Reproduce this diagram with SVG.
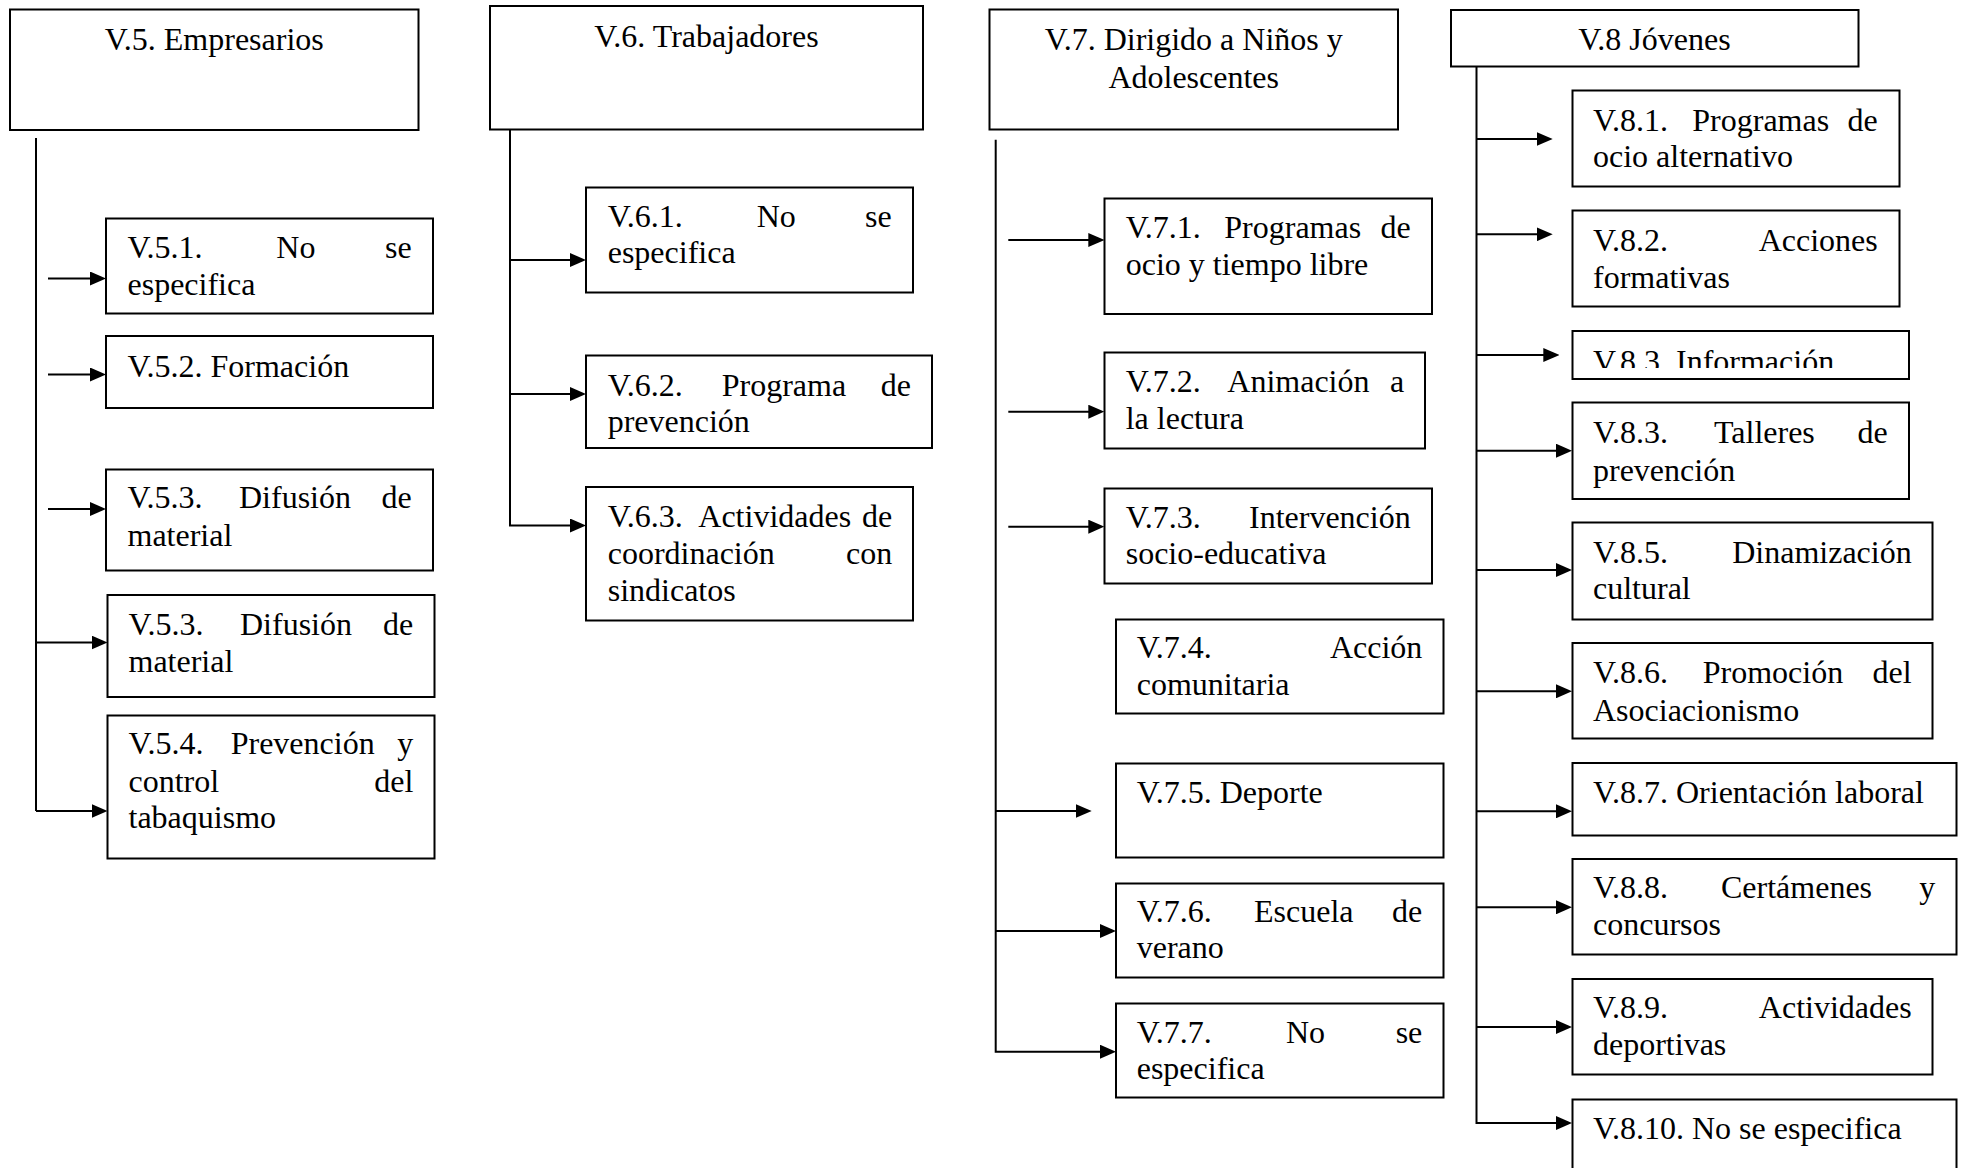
<svg xmlns="http://www.w3.org/2000/svg" width="1966" height="1168" viewBox="0 0 1966 1168">
  <style>
    .box { fill: #ffffff; stroke: #000000; stroke-width: 2; }
    .lbl { font-family: "Liberation Serif", "Times New Roman", serif; font-size: 32px; fill: #000000; }
    .mid { text-anchor: middle; }
    .end { text-anchor: end; }
    .wire { fill: none; stroke: #000000; stroke-width: 2; }
    .arrow { fill: none; stroke: #000000; stroke-width: 2; marker-end: url(#ah); }
  </style>
  <defs>
    <marker id="ah" markerUnits="userSpaceOnUse" markerWidth="16" markerHeight="14" refX="8" refY="7" orient="auto">
      <path d="M0,0 L16,7 L0,14 Z" fill="#000000"/>
    </marker>
    <clipPath id="clip-v83i">
      <rect x="1572" y="331" width="337" height="37"/>
    </clipPath>
  </defs>
  <rect width="1966" height="1168" fill="#ffffff"/>

  <!-- Connectors (arrow lines end 8px before the tip; the marker supplies the head) -->
  <g id="connectors">
    <!-- V.5 trunk and branches -->
    <path class="wire" d="M36,138 V811"/>
    <path class="arrow" d="M48,278.5 H98"/>
    <path class="arrow" d="M48,374.5 H98"/>
    <path class="arrow" d="M48,509 H98"/>
    <path class="arrow" d="M36,642.5 H99.5"/>
    <path class="arrow" d="M36,811 H99.5"/>

    <!-- V.6 trunk and branches -->
    <path class="arrow" d="M510,122 V525.5 H578"/>
    <path class="arrow" d="M510,260 H578"/>
    <path class="arrow" d="M510,394 H578"/>

    <!-- V.7 trunk and branches -->
    <path class="arrow" d="M995.7,139.7 V1051.7 H1108"/>
    <path class="arrow" d="M995.7,811 H1083.7"/>
    <path class="arrow" d="M995.7,931 H1108"/>
    <path class="arrow" d="M1008.3,240 H1096.3"/>
    <path class="arrow" d="M1008.3,411.7 H1096.3"/>
    <path class="arrow" d="M1008.3,526.7 H1096.3"/>

    <!-- V.8 trunk and branches -->
    <path class="arrow" d="M1476.5,66.5 V1123 H1564"/>
    <path class="arrow" d="M1476.5,139 H1544.7"/>
    <path class="arrow" d="M1476.5,234.3 H1544.7"/>
    <path class="arrow" d="M1476.5,355 H1551.3"/>
    <path class="arrow" d="M1476.5,450.7 H1564"/>
    <path class="arrow" d="M1476.5,570 H1564"/>
    <path class="arrow" d="M1476.5,691.3 H1564"/>
    <path class="arrow" d="M1476.5,811.3 H1564"/>
    <path class="arrow" d="M1476.5,907.3 H1564"/>
    <path class="arrow" d="M1476.5,1027 H1564"/>
  </g>

  <!-- V.5 Empresarios -->
  <g id="v5">
    <rect class="box" x="10" y="9.5" width="408.5" height="120.5"/>
    <text class="lbl mid" x="214.3" y="50">V.5. Empresarios</text>
  </g>
  <g id="v5-1">
    <rect class="box" x="106" y="218.5" width="327" height="95"/>
    <text class="lbl" y="258"><tspan x="127.5">V.5.1.</tspan><tspan x="276.3">No</tspan><tspan x="411.7" class="end">se</tspan></text>
    <text class="lbl" x="127.5" y="295">especifica</text>
  </g>
  <g id="v5-2">
    <rect class="box" x="106" y="336" width="327" height="72"/>
    <text class="lbl" x="127.5" y="376.7">V.5.2. Formación</text>
  </g>
  <g id="v5-3a">
    <rect class="box" x="106" y="469.5" width="327" height="101"/>
    <text class="lbl" y="508.3"><tspan x="127.5">V.5.3.</tspan><tspan x="239">Difusión</tspan><tspan x="411.7" class="end">de</tspan></text>
    <text class="lbl" x="127.5" y="546">material</text>
  </g>
  <g id="v5-3b">
    <rect class="box" x="107.5" y="595" width="327" height="102"/>
    <text class="lbl" y="635"><tspan x="128.5">V.5.3.</tspan><tspan x="240">Difusión</tspan><tspan x="413.3" class="end">de</tspan></text>
    <text class="lbl" x="128.5" y="672.3">material</text>
  </g>
  <g id="v5-4">
    <rect class="box" x="107.5" y="715.5" width="327" height="143"/>
    <text class="lbl" y="754.3"><tspan x="128.5">V.5.4.</tspan><tspan x="230.7">Prevención</tspan><tspan x="413.3" class="end">y</tspan></text>
    <text class="lbl" y="791.7"><tspan x="128.5">control</tspan><tspan x="413.3" class="end">del</tspan></text>
    <text class="lbl" x="128.5" y="828.3">tabaquismo</text>
  </g>

  <!-- V.6 Trabajadores -->
  <g id="v6">
    <rect class="box" x="490" y="6" width="433" height="123.5"/>
    <text class="lbl mid" x="706.5" y="46.5">V.6. Trabajadores</text>
  </g>
  <g id="v6-1">
    <rect class="box" x="586" y="187.5" width="327" height="105"/>
    <text class="lbl" y="226.8"><tspan x="607.7">V.6.1.</tspan><tspan x="756.7">No</tspan><tspan x="891.7" class="end">se</tspan></text>
    <text class="lbl" x="607.7" y="263.3">especifica</text>
  </g>
  <g id="v6-2">
    <rect class="box" x="586" y="355.5" width="346" height="92.5"/>
    <text class="lbl" y="396"><tspan x="607.7">V.6.2.</tspan><tspan x="721.7">Programa</tspan><tspan x="911" class="end">de</tspan></text>
    <text class="lbl" x="607.7" y="432.4">prevención</text>
  </g>
  <g id="v6-3">
    <rect class="box" x="586" y="487" width="327" height="133.5"/>
    <text class="lbl" y="527"><tspan x="607.7">V.6.3.</tspan><tspan x="698.3">Actividades</tspan><tspan x="892.3" class="end">de</tspan></text>
    <text class="lbl" y="564"><tspan x="607.7">coordinación</tspan><tspan x="892.3" class="end">con</tspan></text>
    <text class="lbl" x="607.7" y="601">sindicatos</text>
  </g>

  <!-- V.7 Dirigido a Niños y Adolescentes -->
  <g id="v7">
    <rect class="box" x="989.5" y="9.5" width="408.5" height="120"/>
    <text class="lbl mid" x="1193.7" y="50">V.7. Dirigido a Niños y</text>
    <text class="lbl mid" x="1193.7" y="87.5">Adolescentes</text>
  </g>
  <g id="v7-1">
    <rect class="box" x="1104.5" y="198.5" width="327.5" height="115.5"/>
    <text class="lbl" y="238.3"><tspan x="1125.7">V.7.1.</tspan><tspan x="1224.3">Programas</tspan><tspan x="1410.7" class="end">de</tspan></text>
    <text class="lbl" x="1125.7" y="275">ocio y tiempo libre</text>
  </g>
  <g id="v7-2">
    <rect class="box" x="1104.5" y="352.5" width="320.5" height="96"/>
    <text class="lbl" y="391.7"><tspan x="1125.7">V.7.2.</tspan><tspan x="1227.3">Animación</tspan><tspan x="1404.3" class="end">a</tspan></text>
    <text class="lbl" x="1125.7" y="429">la lectura</text>
  </g>
  <g id="v7-3">
    <rect class="box" x="1104.5" y="488.5" width="327.5" height="95"/>
    <text class="lbl" y="528.3"><tspan x="1125.7">V.7.3.</tspan><tspan x="1410.7" class="end">Intervención</tspan></text>
    <text class="lbl" x="1125.7" y="564.3">socio-educativa</text>
  </g>
  <g id="v7-4">
    <rect class="box" x="1116" y="619.5" width="327.5" height="94"/>
    <text class="lbl" y="658.3"><tspan x="1136.7">V.7.4.</tspan><tspan x="1422.3" class="end">Acción</tspan></text>
    <text class="lbl" x="1136.7" y="695">comunitaria</text>
  </g>
  <g id="v7-5">
    <rect class="box" x="1116" y="763.5" width="327.5" height="94"/>
    <text class="lbl" x="1136.7" y="802.7">V.7.5. Deporte</text>
  </g>
  <g id="v7-6">
    <rect class="box" x="1116" y="883.5" width="327.5" height="94"/>
    <text class="lbl" y="921.7"><tspan x="1136.7">V.7.6.</tspan><tspan x="1254">Escuela</tspan><tspan x="1422.3" class="end">de</tspan></text>
    <text class="lbl" x="1136.7" y="958.3">verano</text>
  </g>
  <g id="v7-7">
    <rect class="box" x="1116" y="1003.5" width="327.5" height="94"/>
    <text class="lbl" y="1042.7"><tspan x="1136.7">V.7.7.</tspan><tspan x="1286">No</tspan><tspan x="1422.3" class="end">se</tspan></text>
    <text class="lbl" x="1136.7" y="1079.3">especifica</text>
  </g>

  <!-- V.8 Jóvenes -->
  <g id="v8">
    <rect class="box" x="1451" y="10" width="407.5" height="56.5"/>
    <text class="lbl mid" x="1654.5" y="50">V.8 Jóvenes</text>
  </g>
  <g id="v8-1">
    <rect class="box" x="1572.5" y="90.5" width="327" height="96"/>
    <text class="lbl" y="131"><tspan x="1593">V.8.1.</tspan><tspan x="1692.3">Programas</tspan><tspan x="1877.7" class="end">de</tspan></text>
    <text class="lbl" x="1593" y="167.3">ocio alternativo</text>
  </g>
  <g id="v8-2">
    <rect class="box" x="1572.5" y="210.5" width="327" height="96"/>
    <text class="lbl" y="250.7"><tspan x="1593">V.8.2.</tspan><tspan x="1877.7" class="end">Acciones</tspan></text>
    <text class="lbl" x="1593" y="287.7">formativas</text>
  </g>
  <g id="v8-3-info">
    <rect class="box" x="1572.5" y="331" width="336.5" height="48"/>
    <text class="lbl" x="1593" y="372" clip-path="url(#clip-v83i)">V.8.3. Información</text>
  </g>
  <g id="v8-3-talleres">
    <rect class="box" x="1572.5" y="402.5" width="336.5" height="96.5"/>
    <text class="lbl" y="443.3"><tspan x="1593">V.8.3.</tspan><tspan x="1714">Talleres</tspan><tspan x="1887.7" class="end">de</tspan></text>
    <text class="lbl" x="1593" y="480.7">prevención</text>
  </g>
  <g id="v8-5">
    <rect class="box" x="1572.5" y="522.5" width="360" height="97"/>
    <text class="lbl" y="562.7"><tspan x="1593">V.8.5.</tspan><tspan x="1911.7" class="end">Dinamización</tspan></text>
    <text class="lbl" x="1593" y="598.7">cultural</text>
  </g>
  <g id="v8-6">
    <rect class="box" x="1572.5" y="643" width="360" height="95.5"/>
    <text class="lbl" y="683"><tspan x="1593">V.8.6.</tspan><tspan x="1702.7">Promoción</tspan><tspan x="1911.7" class="end">del</tspan></text>
    <text class="lbl" x="1593" y="720.7">Asociacionismo</text>
  </g>
  <g id="v8-7">
    <rect class="box" x="1572.5" y="763" width="384" height="72.5"/>
    <text class="lbl" x="1593" y="803.3">V.8.7. Orientación laboral</text>
  </g>
  <g id="v8-8">
    <rect class="box" x="1572.5" y="859" width="384" height="95.5"/>
    <text class="lbl" y="898"><tspan x="1593">V.8.8.</tspan><tspan x="1721">Certámenes</tspan><tspan x="1935.3" class="end">y</tspan></text>
    <text class="lbl" x="1593" y="935.3">concursos</text>
  </g>
  <g id="v8-9">
    <rect class="box" x="1572.5" y="979" width="360" height="95.5"/>
    <text class="lbl" y="1018"><tspan x="1593">V.8.9.</tspan><tspan x="1911.7" class="end">Actividades</tspan></text>
    <text class="lbl" x="1593" y="1055.3">deportivas</text>
  </g>
  <g id="v8-10">
    <rect class="box" x="1572.5" y="1099.5" width="384" height="90"/>
    <text class="lbl" x="1593" y="1138.7">V.8.10. No se especifica</text>
  </g>
</svg>
